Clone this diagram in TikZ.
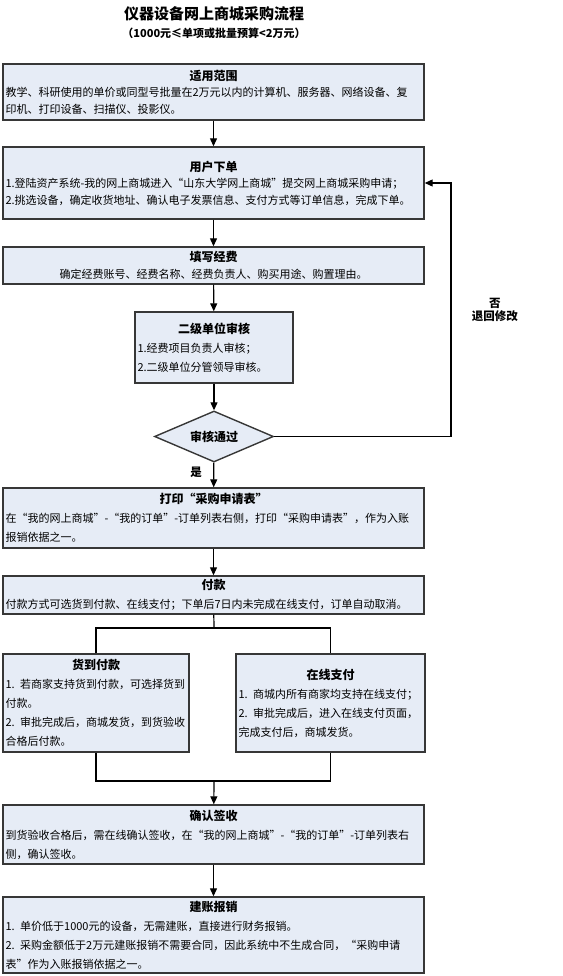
\documentclass[tikz,border=0pt]{standalone}
\usepackage{fontspec}
\setmainfont{Noto Sans CJK SC}
\usetikzlibrary{arrows.meta,shapes.geometric,positioning}

\definecolor{boxfill}{RGB}{230,236,246}
\definecolor{boxline}{RGB}{55,55,55}
\newcommand{\boxtitle}[1]{{\centering\bfseries\fontsize{12}{18}\selectfont #1\par}}

\begin{document}
\begin{tikzpicture}[%
    x=1pt, y=-1pt,
    >={Triangle[width=7pt,length=8pt]},
    line width=1.2pt,
    stepbox/.style={draw=boxline, fill=boxfill, line width=1.4pt, rectangle,
      minimum width=421pt, text width=416pt, inner xsep=2.5pt, inner ysep=1pt,
      align=left, font=\fontsize{11}{16.5}\selectfont},
    loose/.style={font=\fontsize{11}{19}\selectfont},
    check/.style={draw=boxline, fill=boxfill, line width=1.4pt, diamond,
      aspect=2.33, minimum width=119pt, minimum height=51pt, inner sep=0pt,
      font=\bfseries\fontsize{12}{14}\selectfont},
    mark text/.style={font=\bfseries\fontsize{11.5}{12.5}\selectfont, align=center}
  ]
    \useasboundingbox (0,0) rectangle (562,976);

    \node[font=\bfseries\fontsize{15}{17}\selectfont] (title) at (214,14) {仪器设备网上商城采购流程};
    \node[font=\bfseries\fontsize{11}{13}\selectfont] (subtitle) at (214,33) {（1000元≤单项或批量预算<2万元）};

    \node[stepbox, minimum height=56pt] (scope) at (213.5,92) {%
      \boxtitle{适用范围}
      教学、科研使用的单价或同型号批量在2万元以内的计算机、服务器、网络设备、复\\
      印机、打印设备、扫描仪、投影仪。};
    \node[stepbox, minimum height=72pt] (order) at (213.5,183) {%
      \boxtitle{用户下单}
      1.登陆资产系统-我的网上商城进入“山东大学网上商城”提交网上商城采购申请；\\
      2.挑选设备，确定收货地址、确认电子发票信息、支付方式等订单信息，完成下单。};
    \node[stepbox, minimum height=37pt, align=center] (fund) at (213.5,265.5) {%
      \boxtitle{填写经费}
      确定经费账号、经费名称、经费负责人、购买用途、购置理由。};
    \node[stepbox, loose, minimum width=158pt, text width=153pt, minimum height=71pt] (review) at (214,347.5) {%
      \boxtitle{二级单位审核}
      1.经费项目负责人审核；\\
      2.二级单位分管领导审核。};
    \node[check] (pass) at (214,436.5) {审核通过};
    \node[stepbox, loose, minimum height=60pt] (print) at (213.5,518) {%
      \boxtitle{打印“采购申请表”}
      在“我的网上商城”-“我的订单”-订单列表右侧，打印“采购申请表”，作为入账\\
      报销依据之一。};
    \node[stepbox, loose, minimum height=38pt] (pay) at (213.5,595) {%
      \boxtitle{付款}
      付款方式可选货到付款、在线支付；下单后7日内未完成在线支付，订单自动取消。};
    \node[stepbox, loose, minimum width=186pt, text width=181pt, minimum height=98pt] (cod) at (96,703) {%
      \boxtitle{货到付款}
      1. 若商家支持货到付款，可选择货到\\
      付款。\\
      2. 审批完成后，商城发货，到货验收\\
      合格后付款。};
    \node[stepbox, loose, minimum width=189pt, text width=184pt, minimum height=98pt] (online) at (330.5,703) {%
      \boxtitle{在线支付}
      1. 商城内所有商家均支持在线支付；\\
      2. 审批完成后，进入在线支付页面，\\
      完成支付后，商城发货。};
    \node[stepbox, loose, minimum height=59pt] (sign) at (213.5,834.5) {%
      \boxtitle{确认签收}
      到货验收合格后，需在线确认签收，在“我的网上商城”-“我的订单”-订单列表右\\
      侧，确认签收。};
    \node[stepbox, loose, minimum height=76pt] (account) at (213.5,935) {%
      \boxtitle{建账报销}
      1. 单价低于1000元的设备，无需建账，直接进行财务报销。\\
      2. 采购金额低于2万元建账报销不需要合同，因此系统中不生成合同，“采购申请\\
      表”作为入账报销依据之一。};

    \coordinate (back) at (451,436.5);
    \coordinate (split) at (214,628);
    \coordinate (merge) at (214,781);

    \draw[->] (scope) -- (order);
    \draw[->] (order) -- (fund);
    \draw[->] (fund) -- (review);
    \draw[->] (review) -- (pass);
    \draw[->] (pass) -- node[mark text, pos=0.4, left=8pt] {是} (print);
    \draw[->] (pass.east) -- (back) |- node[mark text, pos=0.25, right=17pt] {否\\退回修改} (order.east);
    \draw[->] (print) -- (pay);
    \draw (pay) -- (split);
    \draw (cod) |- (split) -| (online);
    \draw (cod) |- (merge) -| (online);
    \draw[->] (merge) -- (sign);
    \draw[->] (sign) -- (account);
\end{tikzpicture}
\end{document}
